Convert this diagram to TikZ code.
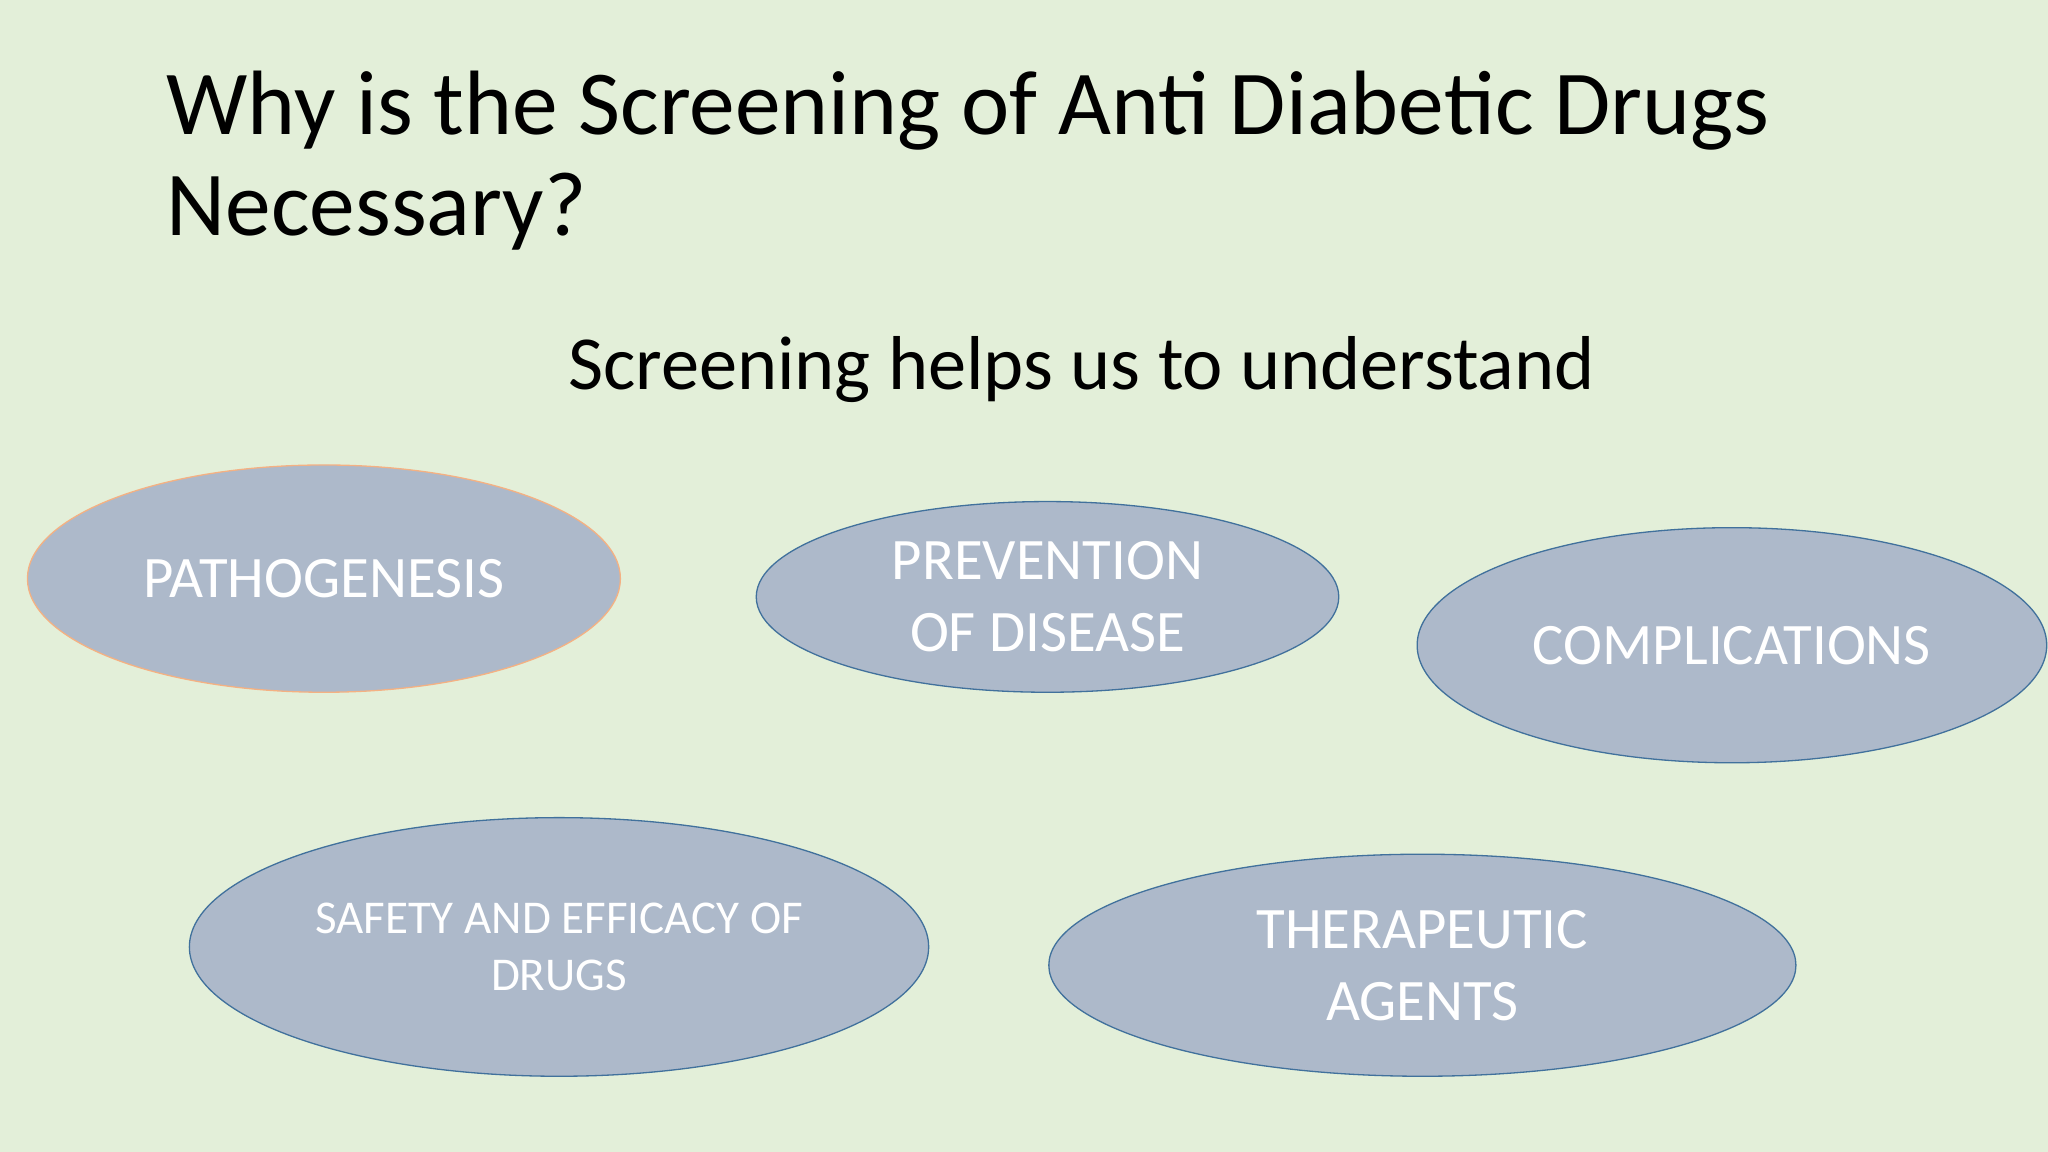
\documentclass[tikz,border=0pt]{standalone}
\usepackage{fontspec}
\setmainfont{Carlito}
\usetikzlibrary{shapes.geometric}
\definecolor{bg}{HTML}{E3EFD9}
\definecolor{ef}{HTML}{ADB9CA}
\definecolor{eb}{HTML}{41719C}
\definecolor{eo}{HTML}{F4B183}
\begin{document}
\begin{tikzpicture}[x=1pt,y=-1pt,
  ell/.style={ellipse,draw=eb,line width=1pt,fill=ef,text=white,align=center,inner sep=0pt},
  lab/.style={font=\fontsize{45}{55}\selectfont}]
\fill[bg] (0,0) rectangle (1568,882);
\useasboundingbox (0,0) rectangle (1568,882);
\node[anchor=base west,align=left,font=\fontsize{70}{77}\selectfont] (title) at (124,180) {Why is the Screening of Anti Diabetic Drugs\\Necessary?};
\node[anchor=base,font=\fontsize{58.5}{60}\selectfont] (sub) at (828,298) {Screening helps us to understand};
\node[ell,draw=eo,minimum width=454,minimum height=174,lab] (a) at (248,443) {PATHOGENESIS};
\node[ell,minimum width=446,minimum height=146,lab] (b) at (802,457) {PREVENTION\\OF DISEASE};
\node[ell,minimum width=482,minimum height=180,lab] (c) at (1326,494) {COMPLICATIONS};
\node[ell,minimum width=566,minimum height=198,font=\fontsize{36}{43}\selectfont] (d) at (428,725) {SAFETY AND EFFICACY OF\\DRUGS};
\node[ell,minimum width=572,minimum height=170,lab] (e) at (1089,739) {THERAPEUTIC\\AGENTS};
\end{tikzpicture}
\end{document}
